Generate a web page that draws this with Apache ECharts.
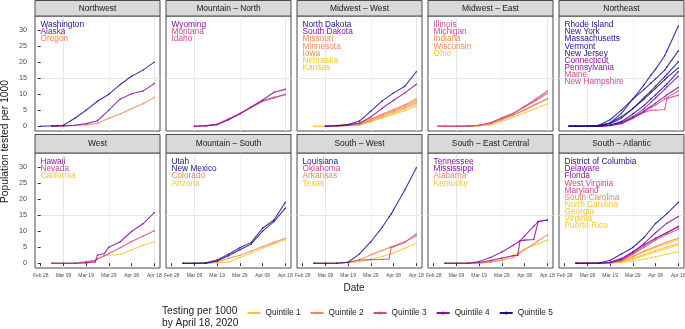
<!DOCTYPE html>
<html><head><meta charset="utf-8">
<script src="https://cdn.jsdelivr.net/npm/echarts@6/dist/echarts.min.js"></script>
<style>html,body{margin:0;padding:0;background:#fff}#c{width:685px;height:329px}</style>
</head><body><div id="c"></div>
<script>
// ---------- data ----------
// day offsets counted from Feb 28, 2020
const dateTicks = [0, 10, 20, 30, 40, 50];
const dateTickLabels = ['Feb 28', 'Mar 09', 'Mar 19', 'Mar 29', 'Apr 08', 'Apr 18'];
const yTicks = [0, 5, 10, 15, 20, 25, 30];
const quintileNames = ['Quintile 1', 'Quintile 2', 'Quintile 3', 'Quintile 4', 'Quintile 5'];
const quintileColors = ['#F9C62B', '#F3845A', '#D2478B', '#8A0EA8', '#1F128F'];
const regionNames = ['Northwest', 'Mountain \u2013 North', 'Midwest \u2013 West', 'Midwest \u2013 East', 'Northeast',
  'West', 'Mountain \u2013 South', 'South \u2013 West', 'South \u2013 East Central', 'South \u2013 Atlantic'];
const stdDays = [0, 5, 10, 15, 20, 25, 30, 35, 40, 45, 50];

const nwStates = ['Washington', 'Alaska', 'Oregon'];
const nwQuint = [5, 4, 2];
const nwDays = stdDays;
const nwValues = [
  [0, 0.1, 0.3, 2.5, 5.0, 7.8, 10.0, 13.0, 15.6, 17.5, 20.0],
  [null, 0, 0.1, 0.3, 0.8, 1.7, 5.0, 8.5, 10.1, 11.0, 13.3],
  [null, 0, 0.1, 0.2, 0.4, 0.9, 2.5, 3.8, 5.5, 7.0, 9.0]];

const mnStates = ['Wyoming', 'Montana', 'Idaho'];
const mnQuint = [4, 3, 3];
const mnDays = stdDays;
const mnValues = [
  [null, null, 0, 0.1, 0.5, 2.0, 3.8, 6.0, 8.2, 10.6, 11.5],
  [null, null, 0, 0.2, 0.7, 2.3, 4.0, 6.0, 8.0, 9.0, 9.8],
  [null, null, 0, 0.1, 0.5, 2.0, 4.0, 5.8, 7.7, 8.8, 10.0]];

const mwStates = ['North Dakota', 'South Dakota', 'Missouri', 'Minnesota', 'Iowa', 'Nebraska', 'Kansas'];
const mwQuint = [5, 4, 2, 2, 2, 1, 1];
const mwDays = stdDays;
const mwValues = [
  [null, null, 0, 0.2, 0.5, 1.6, 4.7, 7.9, 10.4, 12.5, 17.0],
  [null, null, 0, 0.1, 0.4, 0.9, 2.9, 5.6, 8.1, 10.4, 13.1],
  [null, null, 0, 0.1, 0.2, 0.5, 2.0, 3.8, 5.2, 6.7, 8.6],
  [null, null, 0.1, 0.2, 0.4, 1.0, 2.3, 3.6, 4.9, 6.4, 7.9],
  [null, null, 0, 0, 0.2, 0.6, 1.8, 3.2, 4.5, 5.8, 7.3],
  [null, 0, 0, 0.1, 0.2, 0.4, 1.5, 2.8, 4.0, 5.4, 6.8],
  [null, 0, 0, 0, 0.2, 0.5, 1.4, 2.6, 3.7, 4.8, 6.2]];

const meStates = ['Illinois', 'Michigan', 'Indiana', 'Wisconsin', 'Ohio'];
const meQuint = [3, 3, 2, 2, 1];
const meDays = [2, 5, 10, 15, 20, 25, 30, 35, 40, 45, 50];
const meValues = [
  [0, 0, 0, 0.1, 0.3, 1.0, 2.5, 4.0, 6.2, 8.5, 11.0],
  [0, 0, 0, 0, 0.2, 1.1, 2.6, 4.0, 6.0, 8.0, 10.3],
  [0, 0, 0, 0, 0.2, 0.8, 2.2, 3.6, 5.2, 7.0, 8.4],
  [0, 0, 0, 0.1, 0.3, 0.9, 2.0, 3.4, 5.0, 6.8, 8.6],
  [0, 0, 0, 0, 0.1, 0.4, 1.5, 2.8, 4.1, 5.6, 6.9]];

const neStates = ['Rhode Island', 'New York', 'Massachusetts', 'Vermont', 'New Jersey', 'Connecticut', 'Pennsylvania', 'Maine', 'New Hampshire'];
const neQuint = [5, 5, 5, 5, 5, 4, 4, 3, 3];
const neDays = [2, 5, 10, 15, 20, 25, 30, 35, 38, 40, 44, 45, 50];
const neValues = [
  [0, 0, 0, 0.2, 1.0, 4.0, 8.5, 13.0, 16.0, 17.8, 22.0, 23.5, 31.3],
  [0, 0, 0, 0.3, 2.0, 5.0, 8.5, 11.5, 13.5, 14.8, 17.5, 18.5, 23.5],
  [0, 0, 0, 0.1, 0.8, 2.5, 5.5, 9.0, 11.0, 12.5, 15.5, 16.2, 20.1],
  [0, 0, 0, 0.2, 1.0, 3.0, 5.5, 8.5, 10.5, 11.8, 14.5, 15.2, 18.2],
  [0, 0, 0, 0, 0.3, 1.5, 3.8, 6.5, 8.5, 9.8, 12.5, 13.2, 17.0],
  [0, 0, 0, 0, 0.3, 1.2, 3.0, 5.5, 7.5, 8.8, 11.5, 12.3, 15.6],
  [0, 0, 0, 0, 0.2, 0.8, 2.5, 4.8, 6.2, 7.2, 9.3, 9.8, 12.1],
  [0, 0, 0, 0, 0.2, 1.0, 2.8, 4.5, 5.8, 6.6, 8.5, 9.0, 11.0],
  [0, 0, 0, 0, 0.2, 0.9, 2.6, 4.3, 5.0, 5.0, 5.2, 8.6, 9.7]];

const wStates = ['Hawaii', 'Nevada', 'California'];
const wQuint = [4, 3, 1];
const wDays = [0, 5, 10, 15, 20, 24, 25, 28, 30, 35, 40, 45, 50];
const wValues = [
  [null, 0, 0, 0, 0.1, 0.4, 2.5, 3.0, 5.0, 6.7, 9.9, 12.3, 15.8],
  [null, 0, 0, 0, 0.5, 0.9, 1.3, 2.3, 3.0, 4.8, 6.8, 8.4, 10.1],
  [null, 0, 0, 0, 0.2, 0.9, 1.4, 2.4, 2.5, 2.7, 4.1, 5.6, 6.7]];

const msStates = ['Utah', 'New Mexico', 'Colorado', 'Arizona'];
const msQuint = [5, 5, 2, 1];
const msDays = stdDays;
const msValues = [
  [null, 0, 0, 0.1, 1.0, 2.8, 4.8, 6.5, 10.9, 13.5, 19.0],
  [null, 0, 0, 0, 0.7, 2.3, 4.2, 6.0, 10.0, 13.0, 17.2],
  [null, 0, 0, 0, 0.4, 1.5, 2.5, 3.8, 5.2, 6.5, 7.8],
  [null, 0, 0, 0, 0.1, 0.4, 1.8, 3.2, 4.7, 6.0, 7.3]];

const swStates = ['Louisiana', 'Oklahoma', 'Arkansas', 'Texas'];
const swQuint = [5, 3, 2, 1];
const swDays = [0, 5, 10, 15, 20, 25, 30, 35, 38, 39, 40, 45, 50];
const swValues = [
  [null, 0, 0, 0, 0.3, 2.9, 6.7, 11.2, 14.4, 15.4, 16.7, 22.9, 29.8],
  [null, 0, 0, 0, 0.3, 1.0, 1.1, 1.2, 1.3, 5.0, 5.1, 6.5, 9.1],
  [null, 0, 0, 0, 0.3, 1.0, 2.6, 4.0, 4.8, 5.1, 5.4, 6.8, 8.4],
  [null, 0, 0, 0, 0.1, 0.5, 1.2, 2.1, 2.7, 2.9, 3.2, 4.7, 6.2]];

const secStates = ['Tennessee', 'Mississippi', 'Alabama', 'Kentucky'];
const secQuint = [4, 4, 2, 1];
const secDays = [0, 5, 10, 15, 20, 25, 30, 35, 37, 38, 40, 44, 46, 50];
const secValues = [
  [null, 0, 0, 0, 0.5, 1.8, 3.5, 5.6, 6.5, 7.0, 8.5, 11.5, 13.0, 13.5],
  [null, 0, 0, 0, 0.2, 0.8, 1.6, 2.3, 2.5, 7.0, 7.2, 7.4, 13.0, 13.5],
  [null, 0, 0, 0, 0, 0.3, 0.9, 1.8, 2.6, 3.2, 4.2, 6.0, 7.0, 8.8],
  [null, 0, 0, 0, 0, 0.4, 1.2, 2.5, 3.1, 3.6, 4.4, 5.5, 6.1, 7.2]];

const saStates = ['District of Columbia', 'Delaware', 'Florida', 'West Virginia', 'Maryland', 'South Carolina', 'North Carolina', 'Georgia', 'Virginia', 'Puerto Rico'];
const saQuint = [5, 4, 4, 3, 3, 2, 1, 1, 1, 1];
const saDays = stdDays;
const saValues = [
  [null, 0, 0, 0, 0.9, 2.9, 4.9, 8.1, 12.4, 15.5, 19.0],
  [null, 0, 0, 0, 0.3, 1.2, 3.4, 6.2, 9.5, 12.5, 14.6],
  [null, 0, 0, 0, 0.3, 1.5, 3.6, 5.8, 7.8, 9.6, 11.3],
  [null, 0, 0, 0, 0.1, 0.9, 3.0, 5.5, 7.6, 9.5, 11.6],
  [null, 0, 0, 0, 0.2, 1.0, 2.8, 5.0, 7.2, 9.0, 10.6],
  [null, 0, 0, 0, 0.1, 0.6, 2.0, 3.8, 5.2, 6.6, 7.8],
  [null, 0, 0, 0, 0.2, 0.8, 2.2, 3.6, 4.9, 6.1, 7.3],
  [null, 0, 0, 0, 0.1, 0.5, 1.5, 2.8, 4.0, 5.1, 6.2],
  [null, 0, 0, 0, 0.1, 0.4, 1.2, 2.3, 3.5, 4.6, 5.8],
  [null, null, null, 0, 0, 0.2, 0.6, 1.3, 2.0, 2.8, 3.6]];

// ---------- layout ----------
const FONT = '"Liberation Sans", Arial, Helvetica, sans-serif';
const panelLefts = [35, 166, 297, 428, 559];
const rowTops = [16, 153];
const stripTops = [0.5, 134.5];
const panelW = 125, panelH = 115;

const regionList = [
  [nwStates, nwQuint, nwDays, nwValues], [mnStates, mnQuint, mnDays, mnValues],
  [mwStates, mwQuint, mwDays, mwValues], [meStates, meQuint, meDays, meValues],
  [neStates, neQuint, neDays, neValues], [wStates, wQuint, wDays, wValues],
  [msStates, msQuint, msDays, msValues], [swStates, swQuint, swDays, swValues],
  [secStates, secQuint, secDays, secValues], [saStates, saQuint, saDays, saValues]];

const grids = [], xAxes = [], yAxes = [], series = [], graphics = [];
const T = 'rgba(0,0,0,0)';
regionList.forEach((reg, r) => {
  const col = r % 5, row = Math.floor(r / 5);
  const left = panelLefts[col], top = rowTops[row];
  grids.push({left: left, top: top, width: panelW, height: panelH, show: true,
    backgroundColor: '#fff', borderColor: '#4a4a4a', borderWidth: 1, containLabel: false, outerBoundsMode: 'none'});
  const bottom = row === 1, leftCol = col === 0;
  xAxes.push({type: 'value', gridIndex: r, min: -2.5, max: 52.5, interval: 2.5,
    axisLine: {show: false},
    axisTick: {show: bottom, customValues: dateTicks, length: 3, lineStyle: {color: '#333', width: 1}},
    axisLabel: {show: bottom, customValues: dateTicks, fontSize: 5, color: '#4d4d4d', margin: 5, fontFamily: FONT,
      formatter: v => { const i = dateTicks.indexOf(Math.round(v)); return i >= 0 ? dateTickLabels[i] : ''; }},
    splitLine: {show: true, lineStyle: {color: [T, '#e6e6e6', T, '#f1f1f1'], width: 1}}});
  yAxes.push({type: 'value', gridIndex: r, min: -1.5, max: 34.4, interval: 0.5,
    axisLine: {show: false},
    axisTick: {show: leftCol, customValues: yTicks, length: 3, lineStyle: {color: '#333', width: 1}},
    axisLabel: {show: leftCol, customValues: yTicks, fontSize: 7.3, color: '#4d4d4d', margin: 8, fontFamily: FONT,
      formatter: v => { const i = yTicks.indexOf(Math.round(v)); return i >= 0 ? String(yTicks[i]) : ''; }},
    splitLine: {show: true, lineStyle: {color: [T, T, T, '#e6e6e6', T, T, T, T, '#f1f1f1', T], width: 1}}});
  const [states, quint, days, values] = reg;
  states.forEach((s, k) => {
    const c = quintileColors[quint[k] - 1];
    series.push({type: 'line', name: s, xAxisIndex: r, yAxisIndex: r,
      data: days.map((d, i) => [d, values[k][i]]),
      connectNulls: true, symbol: 'circle', symbolSize: 1.5, showSymbol: true,
      lineStyle: {width: 1.1, color: c, opacity: 0.85}, itemStyle: {color: c, opacity: 0.85},
      emphasis: {disabled: true}, silent: true, animation: false, z: 2 + quint[k] * 0.01});
    graphics.push({type: 'text', x: left + 5.5, y: top + 9 + k * 7.1,
      style: {text: s, fill: c, font: '8.3px ' + FONT, textAlign: 'left', textVerticalAlign: 'middle'}, z: 10});
  });
  // strip
  const sTop = stripTops[row], sH = top - sTop;
  graphics.push({type: 'rect', shape: {x: left, y: sTop, width: panelW, height: sH},
    style: {fill: '#d9d9d9', stroke: '#4a4a4a', lineWidth: 1}, z: 5});
  graphics.push({type: 'text', x: left + panelW / 2, y: sTop + sH / 2,
    style: {text: regionNames[r], fill: '#1a1a1a', font: '8.4px ' + FONT, textAlign: 'center', textVerticalAlign: 'middle'}, z: 6});
});

// legend dummy series
quintileNames.forEach((q, i) => {
  series.push({type: 'line', name: q, data: [], xAxisIndex: 0, yAxisIndex: 0, symbol: 'circle',
    lineStyle: {width: 1.1, color: quintileColors[i]}, itemStyle: {color: quintileColors[i]}});
});

// titles
graphics.push({type: 'text', x: 354, y: 288,
  style: {text: 'Date', fill: '#1a1a1a', font: '10px ' + FONT, textAlign: 'center', textVerticalAlign: 'middle'}});
graphics.push({type: 'text', x: 5.5, y: 141.5, rotation: Math.PI / 2,
  style: {text: 'Population tested per 1000', fill: '#1a1a1a', font: '10.3px ' + FONT, textAlign: 'center', textVerticalAlign: 'middle'}});
graphics.push({type: 'text', x: 162, y: 310.7,
  style: {text: 'Testing per 1000', fill: '#1a1a1a', font: '10.2px ' + FONT, textAlign: 'left', textVerticalAlign: 'middle'}});
graphics.push({type: 'text', x: 162, y: 323,
  style: {text: 'by April 18, 2020', fill: '#1a1a1a', font: '10.2px ' + FONT, textAlign: 'left', textVerticalAlign: 'middle'}});

const chart = echarts.init(document.getElementById('c'), null, {renderer: 'canvas'});
chart.setOption({
  animation: false,
  backgroundColor: '#fff',
  grid: grids, xAxis: xAxes, yAxis: yAxes, series: series,
  legend: {data: quintileNames, left: 246.5, top: 309, itemWidth: 13, itemHeight: 4, itemGap: 9,
    textStyle: {fontSize: 8.3, color: '#1a1a1a', fontFamily: FONT}, selectedMode: false, padding: 0},
  graphic: {elements: graphics}
});
</script></body></html>
